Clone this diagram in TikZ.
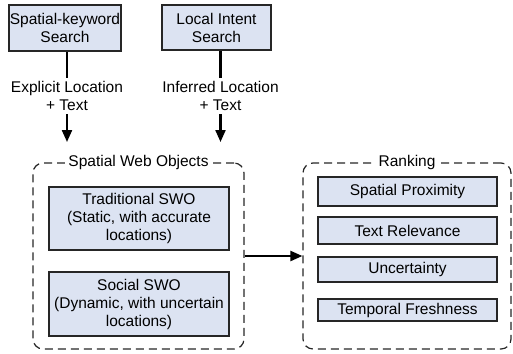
\documentclass[tikz,border=0pt]{standalone}
\usepackage{fontspec}
\setmainfont{Liberation Sans}
\usepackage{tikz}
\usetikzlibrary{arrows.meta,positioning}
\definecolor{boxblue}{RGB}{220,227,242}

\tikzset{
  box/.style={draw=black!85, fill=boxblue, line width=1.2pt, align=center, inner sep=0pt},
  group/.style={draw=black!85, dash pattern=on 8pt off 5pt, rounded corners=10pt, line width=1.2pt, inner sep=0pt},
  grouptitle/.style={fill=white, inner xsep=3pt, inner ysep=1pt},
  link/.style={line width=2.2pt},
  arr/.style={line width=2.2pt, -{Triangle[length=12pt,width=10pt]}}
}

\begin{document}
\begin{tikzpicture}[x=1pt, y=-1pt, font=\fontsize{15.5}{18}\selectfont]
\useasboundingbox (0,0) rectangle (513,353);

% Search Types
\node[box, minimum width=112, minimum height=46] (kwsearch) at (65,28) {Spatial-keyword\\Search};
\node[box, minimum width=109, minimum height=45] (lisearch) at (216.5,27.5) {Local Intent\\Search};
\node[align=center] (explicit) at (67,96) {Explicit Location\\+ Text};
\node[align=center] (inferred) at (220.5,96) {Inferred Location\\+ Text};
\coordinate (swoin1) at (67,142);
\coordinate (swoin2) at (220.5,142);

% Spatial Web Objects
\node[group, minimum width=211, minimum height=186] (swo) at (138.5,256) {};
\node[grouptitle] (swotitle) at (swo.north) {Spatial Web Objects};
\node[box, minimum width=180, minimum height=63] (tradswo) at (139,218.5) {Traditional SWO\\(Static, with accurate\\locations)};
\node[box, minimum width=180, minimum height=64] (socswo) at (139,304) {Social SWO\\(Dynamic, with uncertain\\locations)};

% Ranking
\node[group, minimum width=208, minimum height=186] (rank) at (407,256) {};
\node[grouptitle] (ranktitle) at (rank.north) {Ranking};
\node[box, minimum width=179, minimum height=29] (proximity) at (407.5,191.5) {Spatial Proximity};
\node[box, minimum width=179, minimum height=27] (relevance) at (407.5,230.5) {Text Relevance};
\node[box, minimum width=179, minimum height=25] (uncertain) at (407.5,269.5) {Uncertainty};
\node[box, minimum width=179, minimum height=22] (freshness) at (407.5,310) {Temporal Freshness};

% Connections
\draw[link] (explicit.north) -- (explicit.north |- kwsearch.south);
\draw[link] (inferred.north) -- (inferred.north |- lisearch.south);
\draw[arr] (explicit.south) -- (swoin1);
\draw[arr] (inferred.south) -- (swoin2);
\draw[arr] (swo.east) -- (rank.west);
\end{tikzpicture}
\end{document}
